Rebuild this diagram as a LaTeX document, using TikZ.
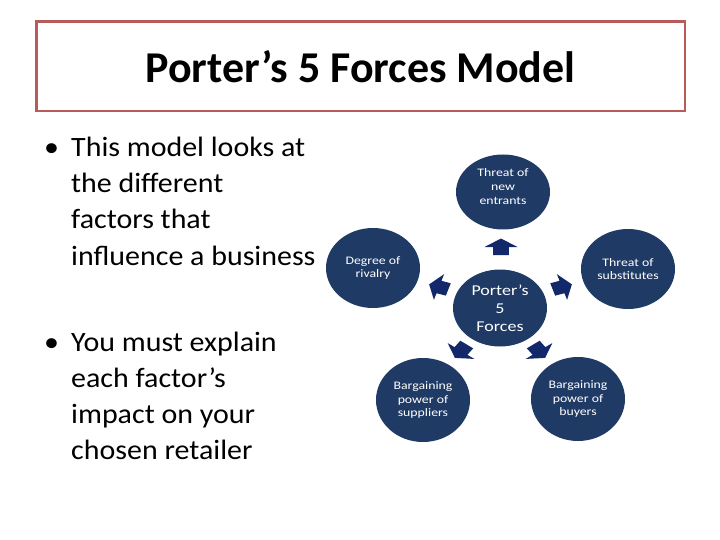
\documentclass[tikz,border=0pt]{standalone}
\usepackage{fontspec}
\setmainfont{Carlito}
\newfontfamily\diagfont[FakeStretch=1.2]{Carlito}
\newfontfamily\bodyfont[FakeStretch=1.07]{Carlito}
\usetikzlibrary{shapes.geometric}
\definecolor{circcol}{RGB}{31,58,100}
\definecolor{arrcol}{RGB}{18,40,106}
\definecolor{framecol}{RGB}{184,92,90}
\tikzset{
  force/.style={ellipse, fill=circcol, minimum width=94pt, minimum height=80pt, inner sep=0pt,
    text=white, align=center, font=\diagfont\fontsize{11.5}{13.5}\selectfont},
  ftext/.style={text=white, align=center, inner sep=0pt, font=\diagfont\fontsize{11.5}{14}\selectfont},
  hub/.style={force, minimum height=77pt, font=\diagfont\fontsize{15}{18}\selectfont},
  bline/.style={anchor=base west, inner sep=0pt, font=\bodyfont\fontsize{28}{36}\selectfont},
  farrow/.pic={\fill[arrcol] (-8,-6.5) -- (0,-6.5) -- (0,-13.5) -- (8.5,0) -- (0,13.5) -- (0,6.5) -- (-8,6.5) -- cycle;}
}
\begin{document}
\begin{tikzpicture}[x=1pt,y=-1pt]
\fill[white] (0,0) rectangle (720,540);
\useasboundingbox (0,0) rectangle (720,540);
% title
\draw[framecol, line width=2.5pt] (36.5,21.5) rectangle (685,111);
\node[anchor=base, inner sep=0pt, font=\bfseries\fontsize{44}{50}\selectfont] (title) at (360.5,83) {Porter’s 5 Forces Model};
% bullets
\node[bline] (b1) at (44,157) {•};
\node[bline] (l1) at (71,157) {This model looks at};
\node[bline] (l2) at (71,193) {the different};
\node[bline] (l3) at (71,229) {factors that};
\node[bline] (l4) at (71,265) {influence a business};
\node[bline] (b2) at (44,351) {•};
\node[bline] (m1) at (71,351) {You must explain};
\node[bline] (m2) at (71,387) {each factor’s};
\node[bline] (m3) at (71,423) {impact on your};
\node[bline] (m4) at (71,459) {chosen retailer};
% diagram
\node[hub] (c) at (500,308) {Porter’s\\5\\Forces};
\node[force, minimum height=75pt, label={[ftext, yshift=5pt]center:Threat of\\new\\entrants}] (t) at (503,192) {};
\node[force] (r) at (373,268) {Degree of\\rivalry};
\node[force] (s) at (628,269) {Threat of\\substitutes};
\node[force, minimum height=84pt] (p) at (423,400) {Bargaining\\power of\\suppliers};
\node[force, minimum height=84pt] (b) at (578,399) {Bargaining\\power of\\buyers};
% arrows
\pic[xscale=1.22, rotate=90] (at) at (501,247) {farrow};
\pic[xscale=1.22, rotate=162] (ar) at (439,287) {farrow};
\pic[xscale=1.22, rotate=18] (as) at (562,287) {farrow};
\pic[xscale=1.22, rotate=234] (ap) at (461,351) {farrow};
\pic[xscale=1.22, rotate=306] (ab) at (539,351) {farrow};
\end{tikzpicture}
\end{document}
